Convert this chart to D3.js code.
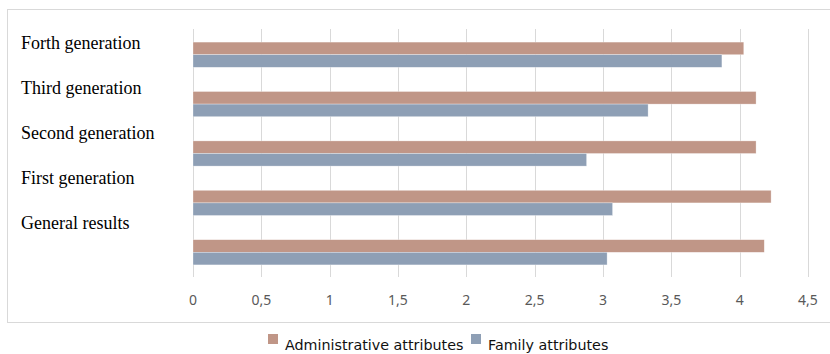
<!DOCTYPE html>
<html lang="en">
  <head>
    <meta charset="UTF-8" />
    <title>Attributes by generation</title>
    <script src="https://d3js.org/d3.v7.min.js"></script>
    <style>
      body {
        margin: 0;
        background: #fff;
      }
      svg {
        display: block;
      }
    </style>
  </head>
  <body>
    <svg id="chart" width="830" height="354"></svg>

    <script>
      // data
      const categories = [
        "Forth generation",
        "Third generation",
        "Second generation",
        "First generation",
        "General results",
      ];
      const seriesNames = ["Administrative attributes", "Family attributes"];
      const adminValues = [4.03, 4.12, 4.12, 4.23, 4.18];
      const familyValues = [3.87, 3.33, 2.88, 3.07, 3.03];
      const ticks = [0, 0.5, 1, 1.5, 2, 2.5, 3, 3.5, 4, 4.5];

      const colors = ["#c09687", "#8e9fb5"];

      const svg = d3.select("#chart");

      // outer chart frame (right edge runs off the picture)
      svg
        .append("rect")
        .attr("x", 7.5)
        .attr("y", 9.5)
        .attr("width", 840)
        .attr("height", 313)
        .attr("fill", "#fff")
        .attr("stroke", "#d9d9d9");

      const plot = { left: 193, right: 808, top: 29, bottom: 277 };

      const x = d3.scaleLinear().domain([0, 4.5]).range([plot.left, plot.right]);

      const y = d3
        .scaleBand()
        .domain(categories)
        .range([30, plot.bottom])
        .paddingInner(0.49)
        .paddingOuter(0.245);

      const sub = d3
        .scaleBand()
        .domain(seriesNames)
        .range([0, y.bandwidth()]);

      // gridlines
      svg
        .append("g")
        .selectAll("line")
        .data(ticks)
        .join("line")
        .attr("x1", (d) => Math.round(x(d)) + 0.5)
        .attr("x2", (d) => Math.round(x(d)) + 0.5)
        .attr("y1", plot.top)
        .attr("y2", plot.bottom)
        .attr("stroke", "#d9d9d9")
        .attr("stroke-width", 1);

      // bars
      const rows = categories.map((c, i) => ({
        cat: c,
        vals: [adminValues[i], familyValues[i]],
      }));

      svg
        .append("g")
        .selectAll("g")
        .data(rows)
        .join("g")
        .attr("transform", (d) => `translate(0,${y(d.cat)})`)
        .selectAll("rect")
        .data((d) => d.vals.map((v, j) => ({ name: seriesNames[j], v, j })))
        .join("rect")
        .attr("x", x(0))
        .attr("y", (d) => sub(d.name))
        .attr("width", (d) => x(d.v) - x(0))
        .attr("height", sub.bandwidth())
        .attr("fill", (d) => colors[d.j])
        .attr("stroke", "#fff")
        .attr("stroke-opacity", 0.5)
        .attr("stroke-width", 0.6);

      // category labels sit a little above their bars, like in the original
      const labelY = d3
        .scalePoint()
        .domain(categories)
        .range([49, 229]);

      svg
        .append("g")
        .selectAll("text")
        .data(categories)
        .join("text")
        .attr("x", 21)
        .attr("y", (d) => labelY(d))
        .attr("font-family", "'Liberation Serif', 'Times New Roman', serif")
        .attr("font-size", "18px")
        .attr("fill", "#000")
        .text((d) => d);

      // x axis tick labels
      const fmt = (d) => String(d).replace(".", ",");
      svg
        .append("g")
        .selectAll("text")
        .data(ticks)
        .join("text")
        .attr("x", (d) => x(d))
        .attr("y", 305)
        .attr("text-anchor", "middle")
        .attr("font-family", "'Noto Sans', 'Open Sans', sans-serif")
        .attr("font-size", "14px")
        .attr("fill", "#595959")
        .text(fmt);

      // legend
      const legend = svg.append("g").attr("transform", "translate(268,334)");
      const legendX = [0, 203];
      seriesNames.forEach((name, i) => {
        const item = legend.append("g").attr("transform", `translate(${legendX[i]},0)`);
        item
          .append("rect")
          .attr("width", 10)
          .attr("height", 10)
          .attr("fill", colors[i]);
        item
          .append("text")
          .attr("x", 17)
          .attr("y", 16)
          .attr("font-family", "'DejaVu Sans', Verdana, sans-serif")
          .attr("font-size", "14.3px")
          .attr("fill", "#111")
          .text(name);
      });
    </script>
  </body>
</html>
